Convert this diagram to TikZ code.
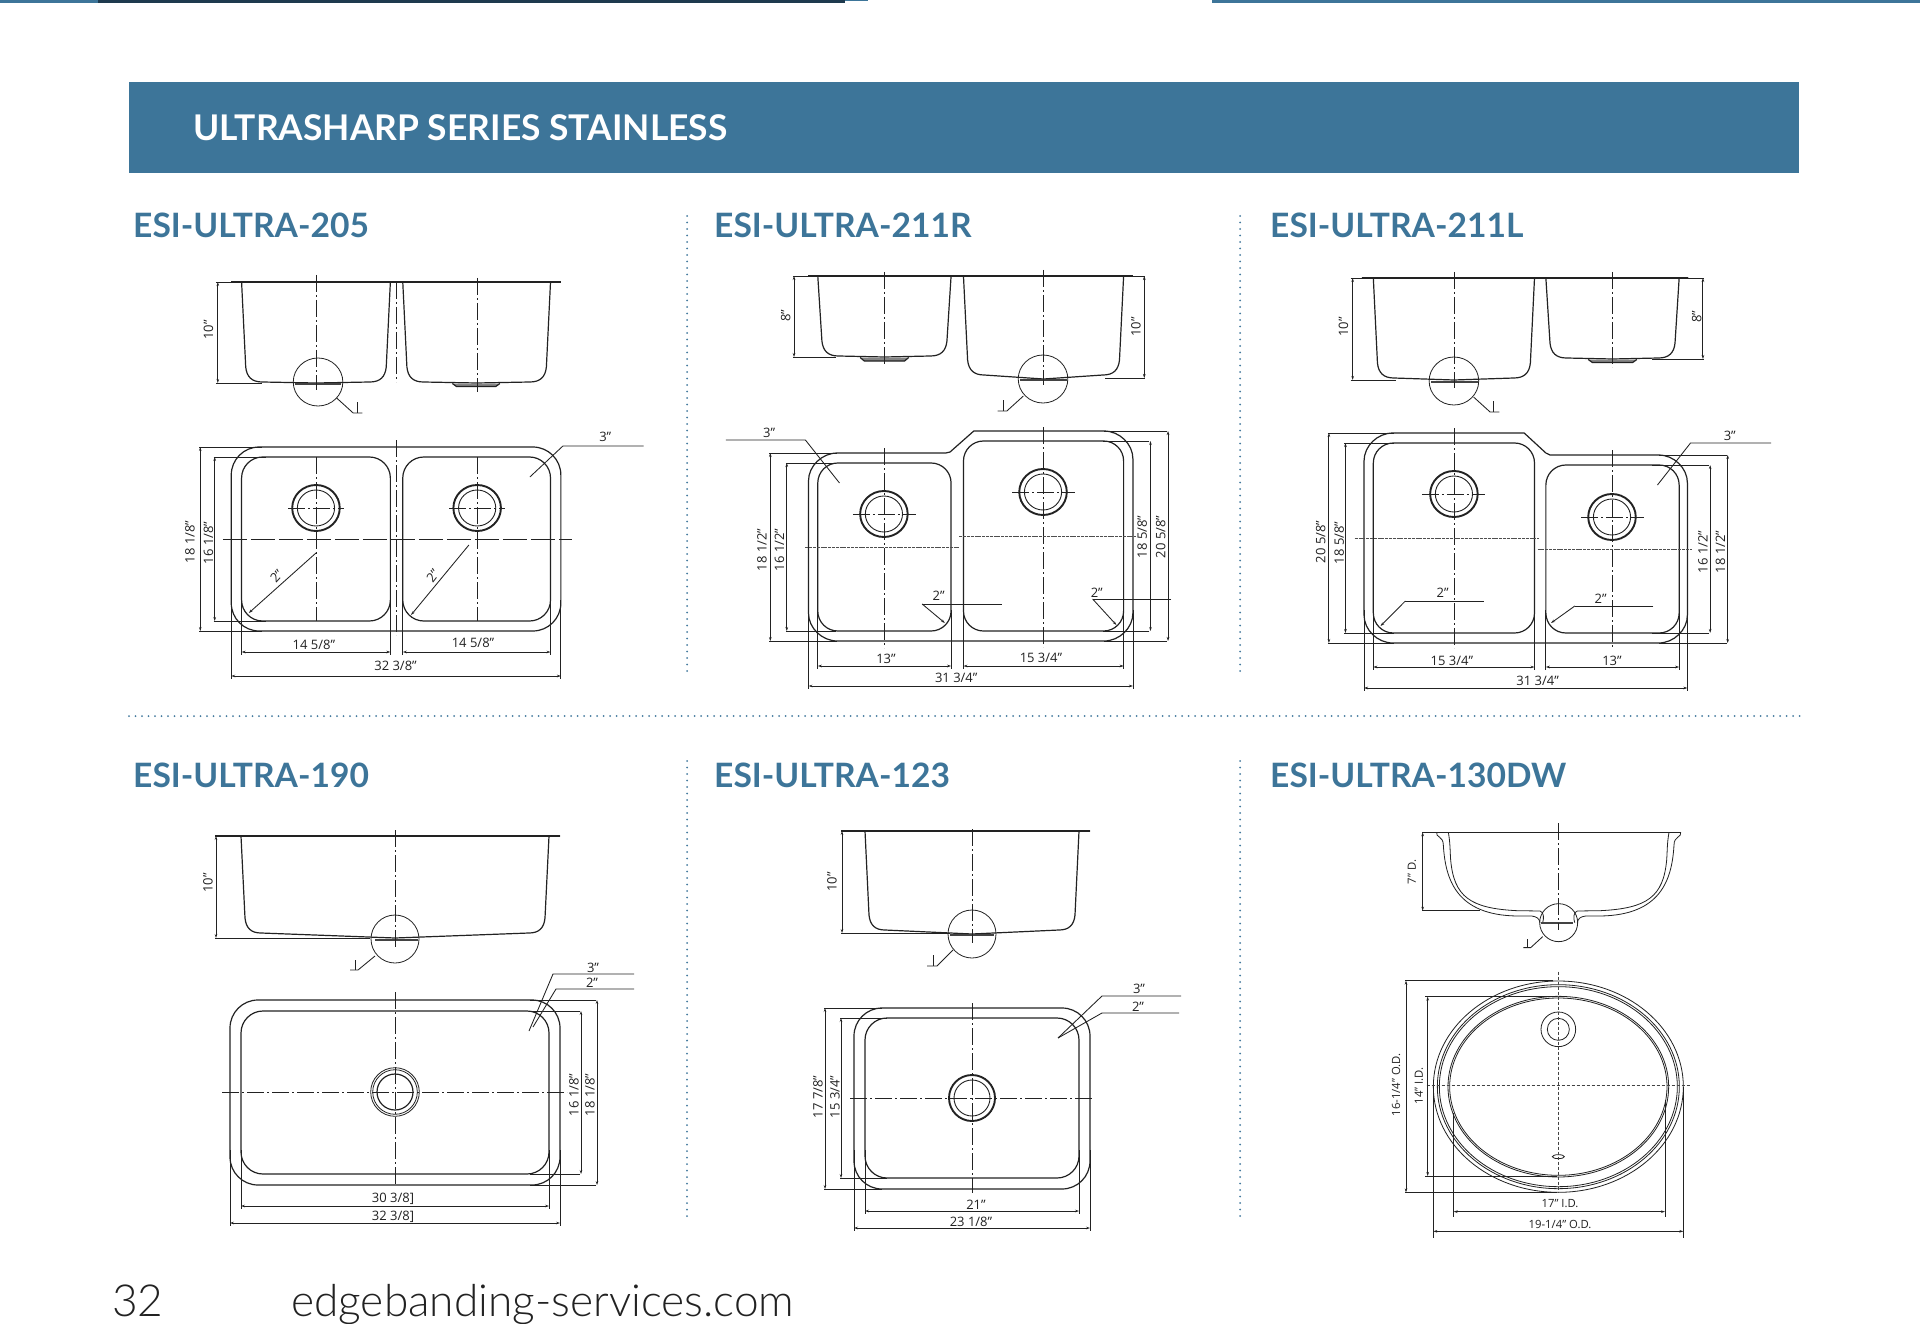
\documentclass[tikz,border=0pt]{standalone}
\usepackage{fontspec}
\setmainfont{Open Sans}
\newfontfamily\headfont{Lato}
\newfontfamily\footfont{Lato Light}
\usetikzlibrary{arrows.meta}
\definecolor{ink}{HTML}{222222}
\definecolor{steel}{HTML}{3D7599}
\definecolor{navy}{HTML}{1E3A4E}
\definecolor{dotblue}{HTML}{447A9E}
\tikzset{
  ln/.style={draw=ink,line width=1.2pt,line join=round},
  fine/.style={draw=ink,line width=.8pt},
  cen/.style={draw=ink,line width=.8pt,dash pattern=on 17pt off 3pt on 2pt off 3pt},
  cenfine/.style={draw=ink!80,line width=.8pt,dash pattern=on 3pt off .8pt},
  cenlong/.style={draw=ink,line width=.9pt,dash pattern=on 24pt off 4pt},
  cendot/.style={draw=ink!85,line width=.7pt,dash pattern=on 3pt off 2pt},
  ext/.style={draw=ink,line width=.8pt},
  dimln/.style={draw=ink,line width=.9pt,{Stealth[length=4pt,width=2.6pt]}-{Stealth[length=4pt,width=2.6pt]}},
  lead/.style={draw=ink,line width=.85pt},
  leadarrow/.style={draw=ink,line width=.85pt,-{Stealth[length=4pt,width=2.6pt]}},
  lab/.style={font=\fontsize{13}{14}\selectfont,text=ink,inner sep=0pt},
  labsm/.style={font=\fontsize{11.3}{12}\selectfont,text=ink,inner sep=0pt},
  title/.style={font=\headfont\bfseries\fontsize{33.6}{34}\selectfont,text=steel,anchor=base west,inner sep=0pt},
  sep/.style={draw=dotblue,line width=2pt,line cap=round,dash pattern=on 0pt off 6.5pt},
  ringo/.style={draw=ink,line width=1.9pt},
  ringi/.style={draw=ink,line width=.9pt},
  bar/.style={draw=ink!85,line width=2pt},
  rowone/.style={shift={(#1,0)},xscale=1.0332,shift={(-#1,0)}}
}
% rimL wallL wallR rimR ytop ybot ymid
\newcommand\bowl[7]{%
  \draw[ln] (#1,#5) -- (#2,#5) -- (#2+4,#6-15)
    .. controls (#2+5,#6-5) and (#2+10,#6) .. (#2+20,#6)
    -- ({(#2+#3)/2},#7) -- (#3-20,#6)
    .. controls (#3-10,#6) and (#3-5,#6-5) .. (#3-4,#6-15)
    -- (#3,#5) -- (#4,#5);}
% drain: cx cy
\newcommand\drain[2]{%
  \draw[ringo] (#1,#2) circle[radius=23];
  \draw[ringi] (#1,#2) circle[radius=18];}
% rect with rounded corners: x1 y1 x2 y2 r
\newcommand\rrect[5]{%
  \draw[ln] (#1,#2) [rounded corners=#5pt] rectangle (#3,#4);}
% vertical dim: x y1 y2 extTo
\newcommand\vdim[4]{%
  \draw[ext] (#1-1,#2) -- (#4,#2);
  \draw[ext] (#1-1,#3) -- (#4,#3);
  \draw[dimln] (#1,#2) -- (#1,#3);}
% horizontal dim: y x1 x2 extFrom
\newcommand\hdim[4]{%
  \draw[ext] (#2,#4) -- (#2,#1+3);
  \draw[ext] (#3,#4) -- (#3,#1+3);
  \draw[dimln] (#2,#1) -- (#3,#1);}
\newcommand\lbl[4][0]{\node[lab,rotate=#1] at (#2,#3) {#4};}
\begin{document}
\begin{tikzpicture}[x=1pt,y=-1pt]
\useasboundingbox (0,0) rectangle (1920,1324);
\fill[white] (0,0) rectangle (1920,1324);
% top strips
\fill[steel] (0,0) rectangle (98,2.6);
\fill[navy] (98,0) rectangle (845,2.6);
\fill[steel] (845,0) rectangle (868,1.2);
\fill[steel] (1212,0) rectangle (1920,2.6);
% header
\fill[steel] (129,82) rectangle (1799,173.5);
\node[font=\headfont\bfseries\fontsize{35.4}{36}\selectfont,text=white,anchor=base west,inner sep=0pt] (head) at (193,140.5) {ULTRASHARP SERIES STAINLESS};
% titles
\node[title] (t1) at (133,237.7) {ESI-ULTRA-205};
\node[title] (t2) at (714,237.7) {ESI-ULTRA-211R};
\node[title] (t3) at (1270,237.7) {ESI-ULTRA-211L};
\node[title] (t4) at (133,787.5) {ESI-ULTRA-190};
\node[title] (t5) at (714,787.5) {ESI-ULTRA-123};
\node[title] (t6) at (1270,787.5) {ESI-ULTRA-130DW};
% separators
\draw[sep] (687,216) -- (687,677);
\draw[sep] (1240,216) -- (1240,677);
\draw[sep] (687,761) -- (687,1221);
\draw[sep] (1240,761) -- (1240,1221);
\draw[sep] (129,716) -- (1800,716);
% footer
\node[font=\footfont\fontsize{44.2}{45}\selectfont,text=ink,anchor=base west,inner sep=0pt] (pg) at (112,1316) {32};
\node[font=\footfont\fontsize{44.2}{45}\selectfont,text=ink,anchor=base west,inner sep=0pt] (url) at (291,1316) {edgebanding-services.com};

%%%%%%%%%% 205
\begin{scope}[rowone=130]
\bowl{228}{238}{382}{394}{282}{382}{383}
\bowl{394}{394}{537}{547}{282}{382}{383}
\draw[ln] (228,282) -- (547,282);
\draw[fine] (312,382) circle[radius=24];
\draw[bar] (290,384) -- (334,384);
\draw[ln,fill=ink!55] (442,383.5) -- (446,386.5) -- (484,386.5) -- (488,383.5);
\draw[cen] (310,275) -- (310,390);
\draw[cen] (466,278) -- (466,392);
\draw[cen] (388,282) -- (388,382);
\draw[ext] (213,282) -- (228,282);
\draw[ext] (213,383) -- (258,383);
\draw[dimln] (215,282) -- (215,383);
\lbl[90]{206}{330}{10"}
\draw[lead] (330,398) -- (346,413) -- (355,413);
\draw[lead] (350,402) -- (350,413);
\rrect{228}{447}{547}{631}{28}
\rrect{238}{457}{382}{621}{21}
\rrect{394}{457}{537}{621}{21}
\drain{310}{508}
\drain{466}{508}
\draw[cen] (310,457) -- (310,621);
\draw[cen] (466,457) -- (466,621);
\draw[cen] (388,440) -- (388,635);
\draw[cenlong] (220,539) -- (558,539);
\draw[cen] (283,508) -- (337,508);
\draw[cen] (439,508) -- (493,508);
\vdim{198}{447}{631}{258}
\vdim{212}{457}{621}{262}
\lbl[90]{188}{542}{18 1/8"}
\lbl[90]{206}{543}{16 1/8"}
\hdim{652}{238}{382}{600}
\hdim{652}{394}{537}{600}
\hdim{676}{228}{547}{600}
\lbl{308}{645}{14 5/8"}
\lbl{462}{643}{14 5/8"}
\lbl{387}{666}{32 3/8"}
\draw[lead] (627,446) -- (549,446) -- (517,477);
\lbl{590}{437}{3"}
\draw[leadarrow] (310,553) -- (245,613);
\draw[leadarrow] (458,545) -- (402,615);
\lbl[48]{272}{576}{2"}
\lbl[52]{423}{576}{2"}
\end{scope}

%%%%%%%%%% 211R
\begin{scope}[rowone=700]
\bowl{805}{814}{943}{955}{276}{356}{357}
\bowl{955}{955}{1110}{1119}{276}{375}{379}
\draw[ln] (805,276) -- (1119,276);
\draw[ln,fill=ink!55] (855,357.5) -- (859,361) -- (898,361) -- (902,357.5);
\draw[fine] (1032,379) circle[radius=24];
\draw[bar] (1010,380) -- (1055,380);
\draw[cen] (878,272) -- (878,365);
\draw[cen] (1032,270) -- (1032,385);
\draw[ext] (790,276) -- (805,276);
\draw[ext] (790,357) -- (832,357);
\draw[dimln] (791,276) -- (791,357);
\lbl[90]{783}{316}{8"}
\draw[ext] (1119,276) -- (1131,276);
\draw[ext] (1092,378) -- (1131,378);
\draw[dimln] (1130,276) -- (1130,378);
\lbl[90]{1122}{327}{10"}
\draw[lead] (1013,396) -- (997,411) -- (988,411);
\draw[lead] (994,400) -- (994,411);
\draw[ln] (833,453) -- (938,453) -- (942,452) -- (965,431) -- (1091,431)
  .. controls (1106,431) and (1119,444) .. (1119,459) -- (1119,613)
  .. controls (1119,628) and (1106,641) .. (1091,641) -- (833,641)
  .. controls (818,641) and (805,628) .. (805,613) -- (805,481)
  .. controls (805,466) and (818,453) .. (833,453) -- cycle;
\rrect{814}{463}{943}{631}{20}
\rrect{955}{441}{1110}{631}{20}
\drain{878}{514}
\drain{1032}{492}
\draw[cen] (878,448) -- (878,648);
\draw[cen] (1032,427) -- (1032,647);
\draw[cenfine] (802,547) -- (951,547);
\draw[cenfine] (951,536) -- (1122,536);
\draw[cen] (848,514) -- (909,514);
\draw[cen] (1002,492) -- (1063,492);
\vdim{768}{453}{641}{833}
\vdim{784}{463}{631}{832}
\lbl[90]{760}{550}{18 1/2"}
\lbl[90]{777}{550}{16 1/2"}
\vdim{1136}{441}{631}{1090}
\vdim{1153}{431}{641}{1091}
\lbl[90]{1128}{537}{18 5/8"}
\lbl[90]{1146}{537}{20 5/8"}
\hdim{666}{814}{943}{610}
\hdim{666}{955}{1110}{610}
\hdim{686}{805}{1119}{610}
\lbl{880}{659}{13"}
\lbl{1030}{658}{15 3/4"}
\lbl{948}{678}{31 3/4"}
\draw[lead] (725,440) -- (802,440) -- (835,483);
\lbl{767}{433}{3"}
\draw[lead] (992,604) -- (915,604);
\draw[leadarrow] (915,604) -- (937,623);
\lbl{931}{596}{2"}
\draw[lead] (1156,599) -- (1080,599);
\draw[leadarrow] (1080,599) -- (1103,625);
\lbl{1084}{593}{2"}
\end{scope}

%%%%%%%%%% 211L
\begin{scope}[rowone=1270]
\bowl{1359}{1370}{1526}{1537}{278}{378}{380}
\bowl{1537}{1537}{1666}{1675}{278}{358}{359}
\draw[ln] (1359,278) -- (1675,278);
\draw[ln,fill=ink!55] (1578,359.5) -- (1582,362.5) -- (1621,362.5) -- (1625,359.5);
\draw[fine] (1448,381) circle[radius=24];
\draw[bar] (1426,382) -- (1471,382);
\draw[cen] (1448,272) -- (1448,388);
\draw[cen] (1601,272) -- (1601,367);
\draw[ext] (1348,278) -- (1359,278);
\draw[ext] (1348,380) -- (1392,380);
\draw[dimln] (1350,278) -- (1350,380);
\lbl[90]{1341}{327}{10"}
\draw[ext] (1675,278) -- (1690,278);
\draw[ext] (1640,359) -- (1690,359);
\draw[dimln] (1689,278) -- (1689,359);
\lbl[90]{1683}{317}{8"}
\draw[lead] (1467,397) -- (1483,412) -- (1492,412);
\draw[lead] (1486,401) -- (1486,412);
\draw[ln] (1389,433) -- (1516,433) -- (1537,453) -- (1541,455) -- (1646,455)
  .. controls (1661,455) and (1674,468) .. (1674,483) -- (1674,615)
  .. controls (1674,630) and (1661,643) .. (1646,643) -- (1389,643)
  .. controls (1374,643) and (1361,630) .. (1361,615) -- (1361,461)
  .. controls (1361,446) and (1374,433) .. (1389,433) -- cycle;
\rrect{1370}{443}{1526}{633}{20}
\rrect{1537}{465}{1666}{633}{20}
\drain{1448}{494}
\drain{1601}{517}
\draw[cen] (1448,428) -- (1448,648);
\draw[cen] (1601,450) -- (1601,648);
\draw[cenfine] (1352,538) -- (1530,538);
\draw[cenfine] (1529,549) -- (1678,549);
\draw[cen] (1417,494) -- (1478,494);
\draw[cen] (1571,517) -- (1632,517);
\vdim{1327}{433}{643}{1390}
\vdim{1343}{443}{633}{1390}
\lbl[90]{1319}{542}{20 5/8"}
\lbl[90]{1337}{543}{18 5/8"}
\vdim{1696}{465}{633}{1640}
\vdim{1713}{455}{643}{1646}
\lbl[90]{1689}{552}{16 1/2"}
\lbl[90]{1706}{552}{18 1/2"}
\hdim{667}{1370}{1526}{610}
\hdim{667}{1537}{1666}{610}
\hdim{688}{1361}{1674}{610}
\lbl{1446}{661}{15 3/4"}
\lbl{1601}{661}{13"}
\lbl{1529}{681}{31 3/4"}
\draw[lead] (1755,443) -- (1677,443) -- (1645,485);
\lbl{1715}{436}{3"}
\draw[lead] (1477,601) -- (1401,601);
\draw[leadarrow] (1401,601) -- (1377,626);
\lbl{1437}{593}{2"}
\draw[lead] (1641,606) -- (1565,606);
\draw[leadarrow] (1565,606) -- (1542,623);
\lbl{1590}{599}{2"}
\end{scope}

%%%%%%%%%% 190
\bowl{230}{241}{549}{560}{836}{933}{938}
\draw[ln] (215,836) -- (560,836);
\draw[fine] (395,939) circle[radius=24];
\draw[bar] (375,940) -- (418,940);
\draw[cen] (395,830) -- (395,948);
\draw[ext] (215,938) -- (370,938);
\draw[dimln] (216,836) -- (216,938);
\lbl[90]{208}{883}{10"}
\draw[lead] (375,956) -- (358,970) -- (350,970);
\draw[lead] (355,960) -- (355,970);
\rrect{230}{1000}{560}{1185}{28}
\rrect{241}{1011}{549}{1174}{22}
\draw[fine] (395,1092) circle[radius=24.3];
\draw[fine] (395,1092) circle[radius=22.3];
\draw[ringi,line width=1.2pt] (395,1092) circle[radius=18];
\draw[cen] (222,1092) -- (567,1092);
\draw[cen] (395,992) -- (395,1185);
\vdim{581}{1011}{1174}{530}
\vdim{597}{1000}{1185}{530}
\lbl[90]{574}{1095}{16 1/8"}
\lbl[90]{590}{1095}{18 1/8"}
\hdim{1206}{241}{549}{1150}
\hdim{1223}{230}{560}{1150}
\lbl{393}{1199}{30 3/8]}
\lbl{393}{1217}{32 3/8]}
\draw[lead] (634,974) -- (553,974) -- (529,1031);
\draw[lead] (634,989) -- (556,989) -- (533,1027);
\lbl{593}{968}{3"}
\lbl{592}{983}{2"}

%%%%%%%%%% 123
\bowl{853}{865}{1079}{1090}{831}{930}{934}
\draw[ln] (841,831) -- (1090,831);
\draw[fine] (972,934) circle[radius=24];
\draw[bar] (950,935) -- (994,935);
\draw[cen] (972,829) -- (972,943);
\draw[ext] (841,933) -- (950,933);
\draw[dimln] (842,831) -- (842,933);
\lbl[90]{832}{882}{10"}
\draw[lead] (953,950) -- (937,966) -- (927,966);
\draw[lead] (933,955) -- (933,966);
\rrect{854}{1008}{1090}{1189}{28}
\rrect{865}{1018}{1079}{1178}{22}
\drain{972}{1098}
\draw[cen] (850,1098) -- (1093,1098);
\draw[cen] (972,1003) -- (972,1193);
\vdim{825}{1008}{1189}{882}
\vdim{841}{1018}{1178}{887}
\lbl[90]{818}{1097}{17 7/8"}
\lbl[90]{835}{1097}{15 3/4"}
\hdim{1211}{865}{1079}{1150}
\hdim{1228}{854}{1090}{1150}
\lbl{976}{1205}{21"}
\lbl{971}{1222}{23 1/8"}
\draw[lead] (1181,996) -- (1102,996) -- (1058,1038);
\draw[lead] (1179,1013) -- (1102,1013) -- (1058,1038);
\lbl{1139}{989}{3"}
\lbl{1138}{1007}{2"}

%%%%%%%%%% 130DW (coordinates in thirds of a pixel)
\begin{scope}[shift={(1360,780)},scale=1/3]
  \draw[fine] (230,157) -- (962,157);
  \draw[ext] (187,157) -- (230,157);
  \draw[fine] (230,157) .. controls (226,172) and (250,168) .. (250,195)
     .. controls (256,300) and (290,405) .. (470,408) -- (515,408)
     .. controls (530,410) and (538,415) .. (540,428);
  \draw[fine] (962,157) .. controls (966,172) and (942,168) .. (942,195)
     .. controls (936,300) and (902,405) .. (722,408) -- (677,408)
     .. controls (662,410) and (654,415) .. (652,428);
  \draw[fine] (265,157) .. controls (271,190) and (270,215) .. (272,240)
     .. controls (282,350) and (330,385) .. (470,392) -- (540,393)
     .. controls (552,396) and (552,415) .. (548,428);
  \draw[fine] (927,157) .. controls (921,190) and (922,215) .. (920,240)
     .. controls (910,350) and (862,385) .. (722,392) -- (652,393)
     .. controls (640,396) and (640,415) .. (644,428);
  \draw[fine] (596,428) circle[radius=57];
  \draw[bar] (542,429) -- (640,429);
  \draw[cen] (596,130) -- (596,450);
  \draw[ext] (187,392) -- (360,392);
  \draw[dimln] (188,157) -- (188,392);
  \draw[lead] (548,470) -- (512,503) -- (490,503);
  \draw[lead] (503,478) -- (503,503);
  \draw[fine] (595,920) ellipse[x radius=375,y radius=317];
  \draw[fine] (595,920) ellipse[x radius=363,y radius=306];
  \draw[fine] (595,920) ellipse[x radius=357,y radius=300];
  \draw[fine] (595,920) ellipse[x radius=331,y radius=271];
  \draw[fine] (595,920) ellipse[x radius=326,y radius=266];
  \draw[fine] (595,748) circle[radius=52];
  \draw[fine] (595,748) circle[radius=33];
  \draw[fine] (595,1130) ellipse[x radius=18,y radius=6];
  \draw[cendot] (596,575) -- (596,1240);
  \draw[cendot] (200,917) -- (995,917);
  \draw[ext] (136,602) -- (580,602);
  \draw[ext] (136,1237) -- (590,1237);
  \draw[dimln] (138,602) -- (138,1237);
  \draw[ext] (195,650) -- (590,650);
  \draw[ext] (195,1188) -- (590,1188);
  \draw[dimln] (203,650) -- (203,1188);
  \draw[ext] (281,1000) -- (281,1312);
  \draw[ext] (915,960) -- (915,1312);
  \draw[dimln] (281,1295) -- (915,1295);
  \draw[ext] (220,920) -- (220,1375);
  \draw[ext] (970,920) -- (970,1375);
  \draw[dimln] (220,1354) -- (970,1354);
\end{scope}
\node[labsm,rotate=90] (d1) at (1412,872) {7" D.};
\node[labsm,rotate=90] (d2) at (1396,1085) {16-1/4" O.D.};
\node[labsm,rotate=90] (d3) at (1419,1086) {14" I.D.};
\node[labsm] (d4) at (1560,1204) {17" I.D.};
\node[labsm] (d5) at (1560,1224) {19-1/4" O.D.};
\end{tikzpicture}
\end{document}
